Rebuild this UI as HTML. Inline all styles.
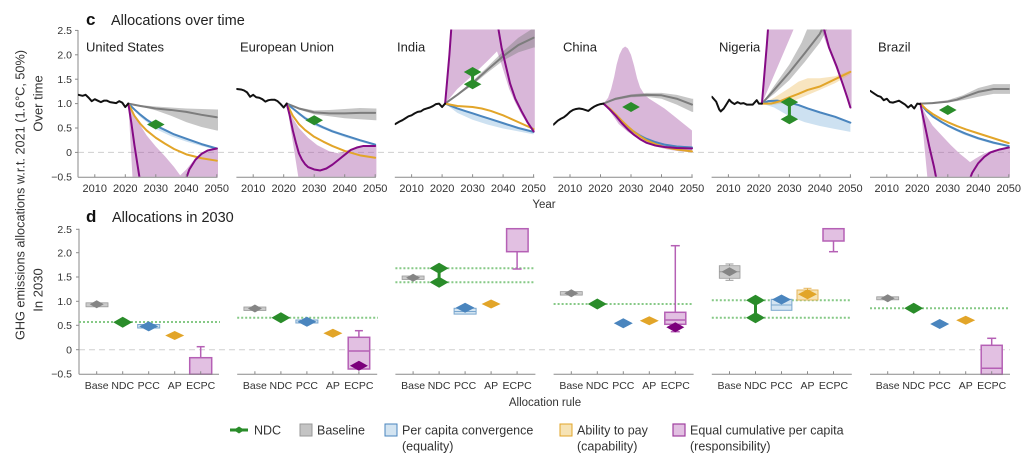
<!DOCTYPE html>
<html><head><meta charset="utf-8"><style>
html,body{margin:0;padding:0;background:#fff}
svg{display:block}
.l{fill:none;vector-effect:non-scaling-stroke;stroke-linejoin:round;stroke-linecap:round;stroke-width:2}
.k{stroke:#111}.g{stroke:#7d7d7d}.b{stroke:#4a85be}.y{stroke:#e2a529}.p{stroke:#850a85}
.pb{fill:#a04aa0;fill-opacity:.4}.gb{fill:#808080;fill-opacity:.45}.bb{fill:#5b9bd0;fill-opacity:.3}.yb{fill:#eab54a;fill-opacity:.35}
.ax{stroke:#8a8a8a;stroke-width:1;fill:none}
.z{stroke:#cfcfcf;stroke-width:1;stroke-dasharray:6,4}
.dt{stroke:#86c986;stroke-width:2;stroke-dasharray:2,2}
.nd{fill:#2a8c2a}.gd{fill:#858585}.bd{fill:#4a85be}.yd{fill:#e2a529}.pd{fill:#7b007b}
.gbox{fill:#cbcbcb;stroke:#9a9a9a;stroke-width:.8}
.bbox{fill:#d3e4f1;stroke:#7aa7cf;stroke-width:1}
.ybox{fill:#f6e3b5;stroke:#e6b65a;stroke-width:1}
.ebox{fill:#e2c0e2;stroke:#b560b5;stroke-width:1.5}
.ew{stroke:#b560b5;stroke-width:1.5}
.yt{font-size:10.5px;fill:#333;text-anchor:end}
.ct{font-size:11px;fill:#333;text-anchor:middle}
.cc{font-size:10.5px;fill:#333;text-anchor:middle}
.cn{font-size:13px;fill:#222}
.lg{font-size:12.5px;fill:#333}
</style></head><body>
<svg width="1024" height="468" viewBox="0 0 1024 468" font-family="Liberation Sans, Arial, sans-serif">
<defs>
<clipPath id="c0"><rect x="78" y="29.5" width="140" height="147.3"/></clipPath>
<clipPath id="c1"><rect x="236.4" y="29.5" width="140" height="147.3"/></clipPath>
<clipPath id="c2"><rect x="394.8" y="29.5" width="140" height="147.3"/></clipPath>
<clipPath id="c3"><rect x="553.2" y="29.5" width="140" height="147.3"/></clipPath>
<clipPath id="c4"><rect x="711.6" y="29.5" width="140" height="147.3"/></clipPath>
<clipPath id="c5"><rect x="870" y="29.5" width="140" height="147.3"/></clipPath>
</defs>

<!-- Titles -->
<text x="86" y="25" font-weight="bold" font-size="17" fill="#111">c</text>
<text x="111" y="25" font-size="14.5" fill="#222">Allocations over time</text>
<text x="86" y="222" font-weight="bold" font-size="17" fill="#111">d</text>
<text x="112" y="222" font-size="14.5" fill="#222">Allocations in 2030</text>

<text transform="translate(24.5,195) rotate(-90)" text-anchor="middle" font-size="12.5" fill="#333" textLength="290" lengthAdjust="spacingAndGlyphs">GHG emissions allocations w.r.t. 2021 (1.6°C, 50%)</text>
<text transform="translate(42.5,103.5) rotate(-90)" text-anchor="middle" font-size="13" fill="#333">Over time</text>
<text transform="translate(42.5,290) rotate(-90)" text-anchor="middle" font-size="13" fill="#333">In 2030</text>

<!-- zero lines -->
<line class="z" x1="78" y1="152.4" x2="1010" y2="152.4"/>
<line class="z" x1="79" y1="349.7" x2="1010" y2="349.7"/>

<!-- Panel c y axis -->
<line class="ax" x1="78" y1="30" x2="78" y2="177.3"/>
<g class="ax">
<line x1="75" y1="30.4" x2="78" y2="30.4"/><line x1="75" y1="54.8" x2="78" y2="54.8"/><line x1="75" y1="79.2" x2="78" y2="79.2"/><line x1="75" y1="103.6" x2="78" y2="103.6"/><line x1="75" y1="128" x2="78" y2="128"/><line x1="75" y1="152.4" x2="78" y2="152.4"/>
</g>
<g class="yt">
<text x="72" y="34">2.5</text><text x="72" y="58.4">2.0</text><text x="72" y="82.8">1.5</text><text x="72" y="107.2">1.0</text><text x="72" y="131.6">0.5</text><text x="72" y="156">0</text><text x="72" y="180.4">−0.5</text>
</g>

<!-- Panel c country labels -->
<text class="cn" x="86" y="51.5">United States</text>
<text class="cn" x="240" y="51.5">European Union</text>
<text class="cn" x="397" y="51.5">India</text>
<text class="cn" x="563" y="51.5">China</text>
<text class="cn" x="719" y="51.5">Nigeria</text>
<text class="cn" x="878" y="51.5">Brazil</text>

<!-- US -->
<g clip-path="url(#c0)"><g transform="translate(-6035.725,152.4) scale(3.05,-48.8)">
<polygon class="pb" points="2021,1 2024,0.65 2027,0.35 2030,0.12 2033,-0.08 2036,-0.3 2038,-0.47 2040,-0.35 2043,-0.12 2046,0.02 2050,0.1 2051,0.1 2051,-0.7 2022.53,-0.7"/>
<polygon class="gb" points="2021,1 2025,0.97 2030,0.94 2035,0.92 2040,0.9 2045,0.89 2050,0.88 2051,0.88 2051,0.45 2050,0.45 2045,0.52 2040,0.62 2035,0.75 2030,0.86 2025,0.94"/>
<polygon class="bb" points="2021,1 2025,0.79 2030,0.57 2035,0.41 2040,0.29 2045,0.18 2050,0.09 2050,0.05 2045,0.13 2040,0.22 2035,0.33 2030,0.48 2025,0.72"/>
<polyline class="l g" points="2021,1 2025,0.95 2030,0.9 2035,0.87 2040,0.83 2045,0.77 2050,0.72"/>
<polyline class="l b" points="2021,1 2023,0.88 2025,0.77 2027,0.67 2030,0.55 2033,0.46 2036,0.37 2040,0.28 2045,0.17 2050,0.08"/>
<polyline class="l y" points="2021,1 2023,0.75 2025,0.58 2027,0.45 2030,0.3 2033,0.18 2036,0.07 2040,-0.04 2045,-0.12 2050,-0.17"/>
<polyline class="l p" points="2021,1 2022,0.6 2023,0.15 2024,-0.25 2025,-0.65"/>
<polyline class="l p" points="2039.3,-0.65 2041,-0.35 2043,-0.15 2045,-0.03 2047,0.04 2050,0.08"/>
<polyline class="l k" points="2004.6,1.18 2006,1.16 2007,1.18 2008,1.12 2009,1.05 2010,1.09 2011,1.06 2012,1.03 2013,1.06 2014,1.06 2015,1.03 2016,1.02 2017,1.01 2018,1.05 2019,1.02 2020,0.93 2021,1"/>
</g></g>
<polygon class="nd" points="147,124.5 155.8,119.5 164.6,124.5 155.8,129.5"/>

<!-- EU -->
<g clip-path="url(#c1)"><g transform="translate(-5877.325,152.4) scale(3.05,-48.8)">
<polygon class="pb" points="2021,1 2023,0.7 2025,0.5 2028,0.3 2031,0.15 2035,0.02 2038,-0.02 2041,0.05 2045,0.12 2050,0.15 2051,0.15 2051,-0.7 2025.3,-0.7"/>
<polygon class="gb" points="2021,1 2025,0.92 2030,0.86 2035,0.87 2040,0.89 2045,0.91 2050,0.9 2051,0.9 2051,0.66 2050,0.66 2045,0.68 2040,0.7 2035,0.74 2030,0.78 2025,0.88"/>
<polygon class="bb" points="2021,1 2025,0.82 2030,0.62 2035,0.49 2040,0.37 2045,0.27 2050,0.18 2050,0.13 2045,0.22 2040,0.31 2035,0.43 2030,0.55 2025,0.76"/>
<polyline class="l g" points="2021,1 2025,0.9 2030,0.82 2035,0.8 2040,0.8 2045,0.81 2050,0.81"/>
<polyline class="l b" points="2021,1 2023,0.9 2025,0.8 2027,0.7 2030,0.6 2033,0.51 2036,0.43 2040,0.35 2045,0.25 2050,0.16"/>
<polyline class="l y" points="2021,1 2023,0.75 2025,0.58 2027,0.46 2030,0.32 2033,0.22 2036,0.13 2040,0.03 2045,-0.06 2050,-0.11"/>
<polyline class="l p" points="2021,1 2022,0.75 2023,0.45 2024,0.2 2025,-0.02 2026,-0.15 2027,-0.24 2028,-0.3 2030,-0.35 2032,-0.37 2034,-0.33 2036,-0.25 2038,-0.15 2040,-0.05 2042,0.05 2044,0.1 2046,0.13 2050,0.13"/>
<polyline class="l k" points="2004.6,1.3 2006,1.29 2007,1.27 2008,1.23 2009,1.14 2010,1.18 2011,1.13 2012,1.12 2013,1.09 2014,1.04 2015,1.07 2016,1.08 2017,1.08 2018,1.05 2019,0.99 2020,0.92 2021,1"/>
</g></g>
<polygon class="nd" points="305.4,120.2 314.2,115.2 323,120.2 314.2,125.2"/>

<!-- India -->
<g clip-path="url(#c2)"><g transform="translate(-5718.925,152.4) scale(3.05,-48.8)">
<polygon class="pb" points="2021,1 2021.7,1.5 2022.4,2 2023.2,2.7 2051,2.7 2051,0.42 2050,0.42"/>
<polygon fill="#fff" points="2021,1 2025,1.3 2030,1.58 2035,1.88 2038,2.07 2039,1.9 2040.5,1.6 2042,1.3 2044,1.02 2046,0.78 2048,0.58 2050,0.42 2050,0.36 2045,0.43 2040,0.49 2035,0.57 2030,0.67 2025,0.81"/>
<polygon class="gb" points="2021,1 2025,1.2 2030,1.46 2035,1.76 2040,2.07 2045,2.35 2050,2.55 2051,2.56 2051,2.15 2050,2.15 2045,2.05 2040,1.88 2035,1.64 2030,1.38 2025,1.16"/>
<polygon class="bb" points="2021,1 2025,0.91 2030,0.81 2035,0.71 2040,0.61 2045,0.51 2050,0.43 2050,0.37 2045,0.43 2040,0.49 2035,0.57 2030,0.67 2025,0.81"/>
<polyline class="l g" points="2021,1 2025,1.18 2030,1.42 2035,1.7 2040,1.97 2045,2.2 2050,2.35"/>
<polyline class="l b" points="2021,1 2025,0.9 2028,0.84 2030,0.8 2033,0.74 2036,0.68 2040,0.6 2045,0.5 2050,0.42"/>
<polyline class="l y" points="2021,1 2025,0.95 2030,0.93 2033,0.9 2036,0.85 2040,0.76 2045,0.62 2050,0.48"/>
<polyline class="l p" points="2021,1 2021.7,1.5 2022.4,2 2023.2,2.7"/>
<polyline class="l p" points="2038,2.7 2039.5,2.15 2041,1.75 2042.3,1.41 2044,1.1 2046,0.85 2048,0.62 2050,0.43"/>
<polyline class="l k" points="2004.6,0.58 2006,0.63 2007,0.66 2008,0.7 2009,0.74 2010,0.76 2011,0.8 2012,0.83 2013,0.84 2014,0.88 2015,0.9 2016,0.92 2017,0.95 2018,0.99 2019,1.0 2020,0.93 2021,1"/>
</g></g>
<line x1="472.6" y1="72" x2="472.6" y2="84" stroke="#2a8c2a" stroke-width="3"/>
<polygon class="nd" points="463.8,72 472.6,67 481.4,72 472.6,77"/>
<polygon class="nd" points="463.8,84.2 472.6,79.2 481.4,84.2 472.6,89.2"/>

<!-- China -->
<g clip-path="url(#c3)"><g transform="translate(-5560.525,152.4) scale(3.05,-48.8)">
<polygon class="pb" points="2021,1 2022.5,1.12 2023.5,1.3 2024.5,1.55 2025.3,1.8 2026.2,2.0 2027.2,2.13 2028.1,2.17 2029,2.13 2030,2.0 2031,1.78 2032,1.52 2033,1.33 2034.5,1.18 2036,1.1 2038,1.02 2041,0.9 2044,0.75 2047,0.6 2050,0.45 2050,0 2046,0.02 2042,0.06 2038,0.12 2035,0.2 2032,0.3 2029,0.42 2026,0.58 2023,0.85"/>
<polygon class="gb" points="2021,1 2025,1.12 2030,1.19 2035,1.22 2040,1.22 2045,1.18 2050,1.1 2051,1.1 2051,0.83 2050,0.83 2045,0.98 2040,1.1 2035,1.14 2030,1.13 2025,1.07"/>
<polygon class="bb" points="2021,1 2025,0.78 2030,0.49 2035,0.3 2040,0.19 2045,0.14 2050,0.12 2050,0.07 2045,0.09 2040,0.14 2035,0.24 2030,0.43 2025,0.74"/>
<polyline class="l g" points="2021,1 2025,1.1 2030,1.16 2035,1.18 2040,1.17 2045,1.1 2050,0.98"/>
<polyline class="l b" points="2021,1 2023,0.89 2025,0.77 2027,0.64 2029,0.52 2031,0.42 2033,0.34 2035,0.28 2038,0.21 2041,0.16 2045,0.12 2050,0.1"/>
<polyline class="l y" points="2021,1 2023,0.9 2025,0.78 2027,0.65 2029,0.53 2031,0.42 2033,0.33 2035,0.25 2038,0.17 2041,0.11 2045,0.06 2050,0.02"/>
<polyline class="l p" points="2021,1 2023,0.88 2025,0.75 2027,0.6 2029,0.47 2031,0.36 2033,0.27 2035,0.2 2038,0.14 2041,0.11 2045,0.09 2050,0.08"/>
<polyline class="l k" points="2004.6,0.57 2006,0.65 2007,0.69 2008,0.72 2009,0.77 2010,0.83 2011,0.87 2012,0.89 2013,0.9 2014,0.89 2015,0.87 2016,0.85 2017,0.9 2018,0.94 2019,0.97 2020,0.99 2021,1"/>
</g></g>
<polygon class="nd" points="622.2,107 631,102 639.8,107 631,112"/>

<!-- Nigeria -->
<g clip-path="url(#c4)"><g transform="translate(-5402.125,152.4) scale(3.05,-48.8)">
<polygon class="pb" points="2021,1 2021.8,1.6 2022.6,2.2 2023.2,2.7 2032.6,2.7"/>
<polygon class="pb" points="2039.5,2.7 2051,2.7 2051,0.9 2050,0.9 2049,1.1 2047,1.45 2044.5,1.85 2042,2.25"/>
<polygon class="gb" points="2021,1 2025,1.36 2030,1.8 2034,2.25 2037,2.7 2044,2.7 2040,2.25 2035,1.85 2030,1.48 2025,1.2"/>
<polygon class="yb" points="2021,1 2025,1.12 2030,1.32 2033,1.45 2036,1.52 2040,1.52 2045,1.56 2050,1.68 2050,1.6 2045,1.42 2040,1.28 2035,1.15 2030,1.02 2025,0.98"/>
<polygon class="bb" points="2021,1 2023,1.07 2026,1.08 2030,1.04 2033,0.99 2036,0.92 2040,0.84 2045,0.75 2050,0.63 2050,0.42 2045,0.48 2040,0.54 2035,0.62 2030,0.74 2025,0.92"/>
<polyline class="l g" points="2021,1 2025,1.28 2030,1.64 2035,2.03 2040,2.43 2042,2.7"/>
<polyline class="l b" points="2021,1 2023,1.05 2026,1.06 2030,1.02 2033,0.97 2036,0.9 2040,0.82 2045,0.73 2050,0.61"/>
<polyline class="l y" points="2021,1 2024,1 2027,1.05 2030,1.13 2033,1.2 2036,1.28 2040,1.35 2045,1.5 2050,1.65"/>
<polyline class="l p" points="2021,1 2021.8,1.6 2022.6,2.2 2023.2,2.7"/>
<polyline class="l p" points="2040.6,2.7 2043,2.15 2045.5,1.76 2047.5,1.4 2049,1.12 2050,0.92"/>
<polyline class="l k" points="2004.6,1.14 2006,1.04 2007,0.88 2007.5,0.84 2008.5,0.9 2009.5,1.0 2010.3,1.08 2011,1.03 2012,0.99 2013,1.03 2014,1.0 2015,1.01 2016,0.98 2017,0.98 2018,0.98 2019.3,1.07 2020,1.0 2021,1"/>
</g></g>
<line x1="789.4" y1="102" x2="789.4" y2="119" stroke="#2a8c2a" stroke-width="3"/>
<polygon class="nd" points="780.6,102.1 789.4,97.1 798.2,102.1 789.4,107.1"/>
<polygon class="nd" points="780.6,119.2 789.4,114.2 798.2,119.2 789.4,124.2"/>

<!-- Brazil -->
<g clip-path="url(#c5)"><g transform="translate(-5243.725,152.4) scale(3.05,-48.8)">
<polygon class="pb" points="2021,1 2023,0.75 2025,0.55 2028,0.35 2031,0.15 2034,-0.03 2036,-0.13 2037.3,-0.2 2039,-0.13 2042,-0.02 2045,0.05 2050,0.11 2051,0.11 2051,-0.7 2023.6,-0.7"/>
<polygon class="gb" points="2021,1 2030,1.07 2035,1.17 2040,1.32 2045,1.4 2050,1.4 2051,1.4 2051,1.2 2050,1.2 2045,1.2 2040,1.14 2035,1.07 2030,1.02"/>
<polygon class="bb" points="2021,1 2025,0.76 2030,0.57 2035,0.43 2040,0.31 2045,0.22 2050,0.15 2050,0.11 2045,0.17 2040,0.26 2035,0.37 2030,0.52 2025,0.71"/>
<polyline class="l g" points="2021,1 2025,1.01 2030,1.04 2033,1.08 2036,1.15 2040,1.24 2045,1.3 2050,1.3"/>
<polyline class="l b" points="2021,1 2023,0.85 2025,0.74 2028,0.62 2030,0.55 2033,0.46 2036,0.38 2040,0.29 2045,0.2 2050,0.13"/>
<polyline class="l y" points="2021,1 2023,0.88 2025,0.79 2028,0.68 2030,0.62 2033,0.54 2036,0.47 2040,0.39 2045,0.29 2050,0.19"/>
<polyline class="l p" points="2021,1 2022.5,0.55 2024,0.1 2025.5,-0.3 2026.6,-0.65"/>
<polyline class="l p" points="2036.6,-0.65 2038,-0.42 2040,-0.22 2042,-0.09 2044,0 2047,0.06 2050,0.1"/>
<polyline class="l k" points="2004.6,1.26 2006,1.2 2007,1.16 2008,1.14 2009,1.07 2010,1.1 2011,1.03 2012,1.02 2013,1.04 2014,1.06 2015,1.02 2016,0.98 2017,0.92 2018,0.97 2019,0.9 2020,1.0 2021,0.99"/>
</g></g>
<polygon class="nd" points="939,110 947.8,105 956.6,110 947.8,115"/>

<!-- Panel c x axes -->
<g class="ax">
<line x1="78" y1="177.3" x2="217.5" y2="177.3"/>
<line x1="236.4" y1="177.3" x2="375.9" y2="177.3"/>
<line x1="394.8" y1="177.3" x2="534.3" y2="177.3"/>
<line x1="553.2" y1="177.3" x2="692.7" y2="177.3"/>
<line x1="711.6" y1="177.3" x2="851.1" y2="177.3"/>
<line x1="870" y1="177.3" x2="1009.5" y2="177.3"/>
</g>
<g class="ax">
<path d="M94.8 177.3v-3M125.3 177.3v-3M155.8 177.3v-3M186.3 177.3v-3M216.8 177.3v-3"/>
<path d="M253.2 177.3v-3M283.7 177.3v-3M314.2 177.3v-3M344.7 177.3v-3M375.2 177.3v-3"/>
<path d="M411.6 177.3v-3M442.1 177.3v-3M472.6 177.3v-3M503.1 177.3v-3M533.6 177.3v-3"/>
<path d="M570 177.3v-3M600.5 177.3v-3M631 177.3v-3M661.5 177.3v-3M692 177.3v-3"/>
<path d="M728.4 177.3v-3M758.9 177.3v-3M789.4 177.3v-3M819.9 177.3v-3M850.4 177.3v-3"/>
<path d="M886.8 177.3v-3M917.3 177.3v-3M947.8 177.3v-3M978.3 177.3v-3M1008.8 177.3v-3"/>
</g>
<g class="ct">
<text x="94.8" y="192">2010</text><text x="125.3" y="192">2020</text><text x="155.8" y="192">2030</text><text x="186.3" y="192">2040</text><text x="216.8" y="192">2050</text>
<text x="253.2" y="192">2010</text><text x="283.7" y="192">2020</text><text x="314.2" y="192">2030</text><text x="344.7" y="192">2040</text><text x="375.2" y="192">2050</text>
<text x="411.6" y="192">2010</text><text x="442.1" y="192">2020</text><text x="472.6" y="192">2030</text><text x="503.1" y="192">2040</text><text x="533.6" y="192">2050</text>
<text x="570" y="192">2010</text><text x="600.5" y="192">2020</text><text x="631" y="192">2030</text><text x="661.5" y="192">2040</text><text x="692" y="192">2050</text>
<text x="728.4" y="192">2010</text><text x="758.9" y="192">2020</text><text x="789.4" y="192">2030</text><text x="819.9" y="192">2040</text><text x="850.4" y="192">2050</text>
<text x="886.8" y="192">2010</text><text x="917.3" y="192">2020</text><text x="947.8" y="192">2030</text><text x="978.3" y="192">2040</text><text x="1008.8" y="192">2050</text>
</g>
<text x="544" y="208" font-size="11.5" fill="#333" text-anchor="middle">Year</text>

<!-- Panel d y axis -->
<line class="ax" x1="79" y1="228.7" x2="79" y2="374.2"/>
<g class="ax">
<line x1="76" y1="229.3" x2="79" y2="229.3"/><line x1="76" y1="252.7" x2="79" y2="252.7"/><line x1="76" y1="277" x2="79" y2="277"/><line x1="76" y1="301.3" x2="79" y2="301.3"/><line x1="76" y1="325.3" x2="79" y2="325.3"/><line x1="76" y1="349.7" x2="79" y2="349.7"/>
</g>
<g class="yt">
<text x="72" y="232.9">2.5</text><text x="72" y="256.3">2.0</text><text x="72" y="280.6">1.5</text><text x="72" y="304.9">1.0</text><text x="72" y="328.9">0.5</text><text x="72" y="353.3">0</text><text x="72" y="377.6">−0.5</text>
</g>

<!-- Panel d dotted NDC lines -->
<line class="dt" x1="79" y1="322" x2="220" y2="322"/>
<line class="dt" x1="237.2" y1="317.7" x2="378" y2="317.7"/>
<line class="dt" x1="395.4" y1="268.3" x2="535" y2="268.3"/>
<line class="dt" x1="395.4" y1="282.3" x2="535" y2="282.3"/>
<line class="dt" x1="553.6" y1="304" x2="693" y2="304"/>
<line class="dt" x1="711.8" y1="300.3" x2="850" y2="300.3"/>
<line class="dt" x1="711.8" y1="317.7" x2="850" y2="317.7"/>
<line class="dt" x1="870" y1="308.3" x2="1010" y2="308.3"/>

<!-- US d -->
<rect class="gbox" x="86" y="302.8" width="22" height="4"/>
<polygon class="gd" points="89.7,304.3 96.7,300.3 103.7,304.3 96.7,308.3"/>
<polygon class="nd" points="113.2,322.2 122.7,316.7 132.2,322.2 122.7,327.7"/>
<rect class="bbox" x="137.7" y="324.5" width="22" height="3.5"/>
<polygon class="bd" points="139.2,326.4 148.7,321.4 158.2,326.4 148.7,331.4"/>
<polygon class="yd" points="165.2,335.5 174.7,331 184.2,335.5 174.7,340"/>
<line class="ew" x1="200.7" y1="346.7" x2="200.7" y2="357.7"/><line class="ew" x1="196.7" y1="346.7" x2="204.7" y2="346.7"/>
<rect class="ebox" x="189.7" y="357.7" width="22" height="16.5"/>

<!-- EU d -->
<rect class="gbox" x="243.9" y="307" width="22" height="3.5"/>
<polygon class="gd" points="247.9,308.5 254.9,304.5 261.9,308.5 254.9,312.5"/>
<polygon class="nd" points="271.4,317.7 280.9,312.2 290.4,317.7 280.9,323.2"/>
<rect class="bbox" x="295.9" y="320" width="22" height="3"/>
<polygon class="bd" points="297.4,321.7 306.9,316.7 316.4,321.7 306.9,326.7"/>
<polygon class="yd" points="323.4,333.3 332.9,328.8 342.4,333.3 332.9,337.8"/>
<line class="ew" x1="358.9" y1="330.7" x2="358.9" y2="337.3"/><line class="ew" x1="354.9" y1="330.7" x2="362.9" y2="330.7"/>
<rect class="ebox" x="348.2" y="337.3" width="21.5" height="31.7"/>
<line class="ew" x1="348.2" y1="351" x2="369.7" y2="351"/>
<polygon class="pd" points="349.9,365.7 358.9,360.7 367.9,365.7 358.9,370.7"/>

<!-- India d -->
<rect class="gbox" x="402.1" y="276" width="22" height="3.5"/>
<polygon class="gd" points="406.1,277.7 413.1,273.7 420.1,277.7 413.1,281.7"/>
<line x1="439.1" y1="268.3" x2="439.1" y2="282.3" stroke="#2a8c2a" stroke-width="3"/>
<polygon class="nd" points="429.6,268.3 439.1,262.8 448.6,268.3 439.1,273.8"/>
<polygon class="nd" points="429.6,282.3 439.1,276.8 448.6,282.3 439.1,287.8"/>
<rect class="bbox" x="454.1" y="308.3" width="22" height="5.8"/>
<line x1="454.1" y1="311.5" x2="476.1" y2="311.5" stroke="#7aa7cf" stroke-width="1"/>
<polygon class="bd" points="455.6,307.8 465.1,302.8 474.6,307.8 465.1,312.8"/>
<polygon class="yd" points="481.6,304 491.1,299.5 500.6,304 491.1,308.5"/>
<line class="ew" x1="517.1" y1="251.7" x2="517.1" y2="269"/><line class="ew" x1="512.6" y1="269" x2="521.6" y2="269"/>
<rect class="ebox" x="506.6" y="228.7" width="21.5" height="23"/>

<!-- China d -->
<rect class="gbox" x="560.3" y="291.6" width="22" height="3.5"/>
<polygon class="gd" points="564.3,293.3 571.3,289.3 578.3,293.3 571.3,297.3"/>
<polygon class="nd" points="587.8,304 597.3,298.5 606.8,304 597.3,309.5"/>
<polygon class="bd" points="613.8,323.3 623.3,318.3 632.8,323.3 623.3,328.3"/>
<polygon class="yd" points="639.8,320.7 649.3,316.2 658.8,320.7 649.3,325.2"/>
<line class="ew" x1="675.3" y1="245.7" x2="675.3" y2="312.3"/><line class="ew" x1="670.8" y1="245.7" x2="679.8" y2="245.7"/>
<line class="ew" x1="675.3" y1="324.3" x2="675.3" y2="331.7"/><line class="ew" x1="670.8" y1="331.7" x2="679.8" y2="331.7"/>
<rect class="ebox" x="664.8" y="312.3" width="21" height="12"/>
<line class="ew" x1="664.8" y1="320" x2="685.8" y2="320"/>
<polygon class="pd" points="666.3,327.3 675.3,322.3 684.3,327.3 675.3,332.3"/>

<!-- Nigeria d -->
<line x1="729.5" y1="264" x2="729.5" y2="280.3" stroke="#9a9a9a" stroke-width="1"/>
<line x1="725.5" y1="264" x2="733.5" y2="264" stroke="#9a9a9a" stroke-width="1"/>
<line x1="725.5" y1="280.3" x2="733.5" y2="280.3" stroke="#9a9a9a" stroke-width="1"/>
<rect class="gbox" x="719.3" y="265.7" width="20.7" height="12.6"/>
<line x1="719.3" y1="271.7" x2="740" y2="271.7" stroke="#9a9a9a" stroke-width="1"/>
<polygon class="gd" points="721.5,271.7 729.5,267.2 737.5,271.7 729.5,276.2"/>
<line x1="755.5" y1="300.3" x2="755.5" y2="317.7" stroke="#2a8c2a" stroke-width="3"/>
<polygon class="nd" points="746,300.3 755.5,294.8 765,300.3 755.5,305.8"/>
<polygon class="nd" points="746,317.7 755.5,312.2 765,317.7 755.5,323.2"/>
<rect class="bbox" x="771.2" y="299.3" width="20.7" height="11"/>
<line x1="771.2" y1="305" x2="791.9" y2="305" stroke="#7aa7cf" stroke-width="1"/>
<polygon class="bd" points="772,299.5 781.5,294.5 791,299.5 781.5,304.5"/>
<line x1="807.5" y1="288.3" x2="807.5" y2="290" stroke="#e6b65a" stroke-width="1"/>
<line x1="803.5" y1="288.3" x2="811.5" y2="288.3" stroke="#e6b65a" stroke-width="1"/>
<rect class="ybox" x="797" y="290" width="21" height="10"/>
<polygon class="yd" points="798,294.3 807.5,289.3 817,294.3 807.5,299.3"/>
<line class="ew" x1="833.5" y1="241" x2="833.5" y2="251.7"/><line class="ew" x1="829" y1="251.7" x2="838" y2="251.7"/>
<rect class="ebox" x="823" y="228.7" width="21" height="12.3"/>

<!-- Brazil d -->
<rect class="gbox" x="876.7" y="296.8" width="22" height="3"/>
<polygon class="gd" points="880.7,298.3 887.7,294.3 894.7,298.3 887.7,302.3"/>
<polygon class="nd" points="904.2,308.3 913.7,302.8 923.2,308.3 913.7,313.8"/>
<polygon class="bd" points="930.2,324 939.7,319 949.2,324 939.7,329"/>
<polygon class="yd" points="956.2,320.3 965.7,315.8 975.2,320.3 965.7,324.8"/>
<line class="ew" x1="991.7" y1="338.3" x2="991.7" y2="345.3"/><line class="ew" x1="987.2" y1="338.3" x2="996.2" y2="338.3"/>
<rect class="ebox" x="981.2" y="345.3" width="21" height="29"/>
<line class="ew" x1="981.2" y1="368.3" x2="1002.2" y2="368.3"/>

<!-- Panel d x axes -->
<g class="ax">
<line x1="79" y1="374.2" x2="219" y2="374.2"/>
<line x1="237.2" y1="374.2" x2="377.2" y2="374.2"/>
<line x1="395.4" y1="374.2" x2="535.4" y2="374.2"/>
<line x1="553.6" y1="374.2" x2="693.6" y2="374.2"/>
<line x1="711.8" y1="374.2" x2="851.8" y2="374.2"/>
<line x1="870" y1="374.2" x2="1010" y2="374.2"/>
<path d="M96.7 374.2v-3M122.7 374.2v-3M148.7 374.2v-3M174.7 374.2v-3M200.7 374.2v-3"/>
<path d="M254.9 374.2v-3M280.9 374.2v-3M306.9 374.2v-3M332.9 374.2v-3M358.9 374.2v-3"/>
<path d="M413.1 374.2v-3M439.1 374.2v-3M465.1 374.2v-3M491.1 374.2v-3M517.1 374.2v-3"/>
<path d="M571.3 374.2v-3M597.3 374.2v-3M623.3 374.2v-3M649.3 374.2v-3M675.3 374.2v-3"/>
<path d="M729.5 374.2v-3M755.5 374.2v-3M781.5 374.2v-3M807.5 374.2v-3M833.5 374.2v-3"/>
<path d="M887.7 374.2v-3M913.7 374.2v-3M939.7 374.2v-3M965.7 374.2v-3M991.7 374.2v-3"/>
</g>
<g class="cc">
<text x="96.7" y="389">Base</text><text x="122.7" y="389">NDC</text><text x="148.7" y="389">PCC</text><text x="174.7" y="389">AP</text><text x="200.7" y="389">ECPC</text>
<text x="254.9" y="389">Base</text><text x="280.9" y="389">NDC</text><text x="306.9" y="389">PCC</text><text x="332.9" y="389">AP</text><text x="358.9" y="389">ECPC</text>
<text x="413.1" y="389">Base</text><text x="439.1" y="389">NDC</text><text x="465.1" y="389">PCC</text><text x="491.1" y="389">AP</text><text x="517.1" y="389">ECPC</text>
<text x="571.3" y="389">Base</text><text x="597.3" y="389">NDC</text><text x="623.3" y="389">PCC</text><text x="649.3" y="389">AP</text><text x="675.3" y="389">ECPC</text>
<text x="729.5" y="389">Base</text><text x="755.5" y="389">NDC</text><text x="781.5" y="389">PCC</text><text x="807.5" y="389">AP</text><text x="833.5" y="389">ECPC</text>
<text x="887.7" y="389">Base</text><text x="913.7" y="389">NDC</text><text x="939.7" y="389">PCC</text><text x="965.7" y="389">AP</text><text x="991.7" y="389">ECPC</text>
</g>
<text x="545" y="406" font-size="11.5" fill="#333" text-anchor="middle">Allocation rule</text>

<!-- Legend -->
<line x1="230" y1="430" x2="248" y2="430" stroke="#2a8c2a" stroke-width="3"/>
<polygon class="nd" points="233.5,430 239,426.5 244.5,430 239,433.5"/>
<text class="lg" x="254" y="434.5">NDC</text>
<rect x="300" y="424" width="12" height="12" fill="#c4c4c4" stroke="#9a9a9a" stroke-width="1"/>
<text class="lg" x="317" y="434.5">Baseline</text>
<rect x="385" y="424" width="12" height="12" fill="#d3e4f1" stroke="#4a85be" stroke-width="1"/>
<text class="lg" x="402" y="434.5">Per capita convergence</text>
<text class="lg" x="402" y="450.5">(equality)</text>
<rect x="560" y="424" width="12" height="12" fill="#f6e3b5" stroke="#e2a529" stroke-width="1"/>
<text class="lg" x="577" y="434.5">Ability to pay</text>
<text class="lg" x="577" y="450.5">(capability)</text>
<rect x="673" y="424" width="12" height="12" fill="#e2c0e2" stroke="#a040a0" stroke-width="1.2"/>
<text class="lg" x="690" y="434.5">Equal cumulative per capita</text>
<text class="lg" x="690" y="450.5">(responsibility)</text>
</svg>
</body></html>
